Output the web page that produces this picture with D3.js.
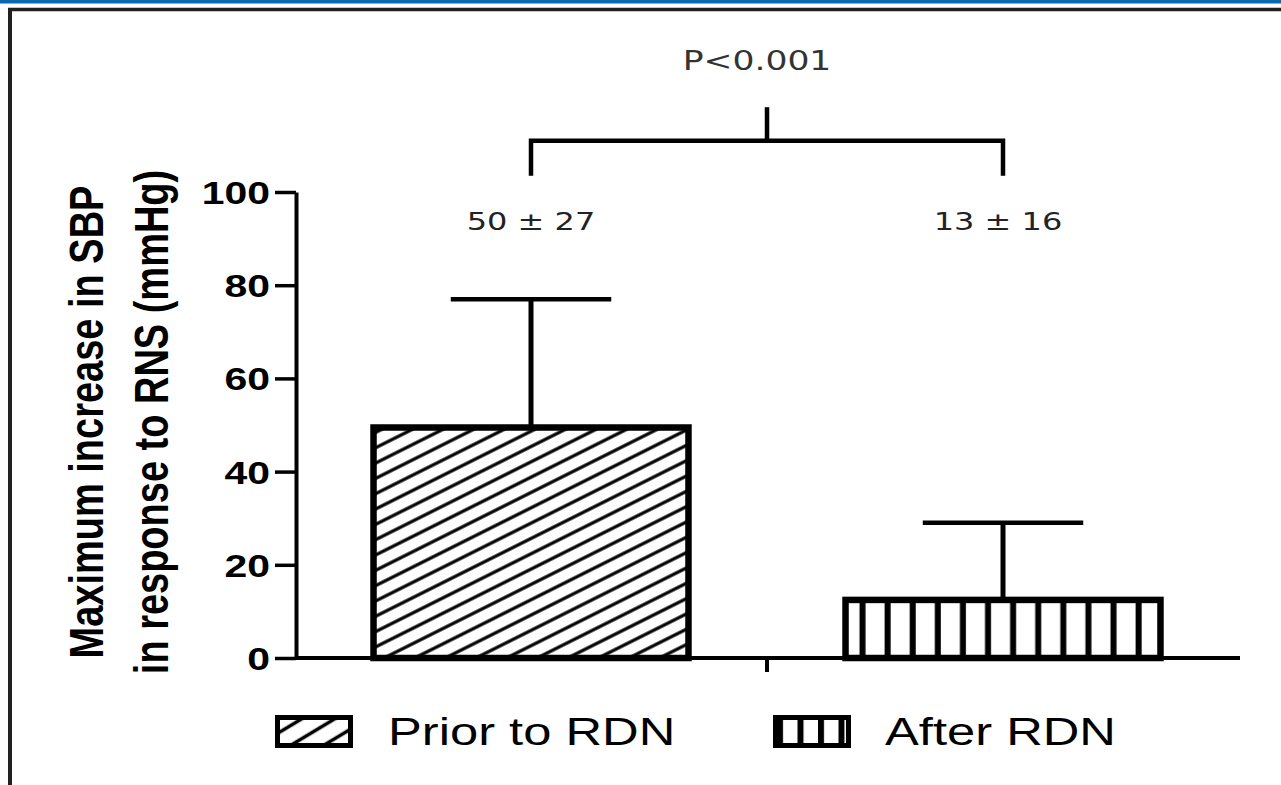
<!DOCTYPE html>
<html>
<head>
<meta charset="utf-8">
<script src="https://cdn.jsdelivr.net/npm/d3@7"></script>
<style>
  body { margin: 0; background: #fff; }
  svg { display: block; }
</style>
</head>
<body>
<div id="chart"></div>
<script>
// values
var categories = ["Prior to RDN", "After RDN"];
var means = [50, 13];
var sds = [27, 16];
var meanLabels = ["50 \u00b1 27", "13 \u00b1 16"];
var yTicks = [0, 20, 40, 60, 80, 100];
var pLabel = "P<0.001";
var yTitle = ["Maximum increase in SBP", "in response to RNS (mmHg)"];

var W = 1281, H = 785;
var squash = 1.28; // the source figure is stretched sideways

var svg = d3.select("#chart").append("svg")
  .attr("width", W)
  .attr("height", H);

svg.append("rect").attr("width", W).attr("height", H).attr("fill", "#fff");

// page frame
svg.append("rect").attr("x", 0).attr("y", 0).attr("width", W).attr("height", 3.5).attr("fill", "#0a67b0");
svg.append("line").attr("x1", 8).attr("x2", W).attr("y1", 9.5).attr("y2", 9.5)
  .attr("stroke", "#231f20").attr("stroke-width", 3.5);
svg.append("line").attr("x1", 10).attr("x2", 10).attr("y1", 8).attr("y2", H)
  .attr("stroke", "#231f20").attr("stroke-width", 4);

var y = d3.scaleLinear().domain([0, 100]).range([658, 192]);
var x = d3.scaleBand().domain(categories).range([295, 1239]);
var barW = x.bandwidth() * 0.68;
var cx = function(c) { return x(c) + x.bandwidth() / 2; };

var defs = svg.append("defs");
var hatch = defs.append("pattern")
  .attr("id", "hatch")
  .attr("patternUnits", "userSpaceOnUse")
  .attr("width", 10).attr("height", 13.7)
  .attr("patternTransform", "rotate(-26.6)");
hatch.append("line")
  .attr("x1", -1).attr("x2", 11).attr("y1", 6.85).attr("y2", 6.85)
  .attr("stroke", "#000").attr("stroke-width", 3.2);

var stripes = defs.append("pattern")
  .attr("id", "stripes")
  .attr("patternUnits", "userSpaceOnUse")
  .attr("x", cx(categories[1]) - barW / 2)
  .attr("width", 25.1).attr("height", 10);
stripes.append("rect")
  .attr("x", 17).attr("width", 6).attr("height", 10).attr("fill", "#000");

var hatchSmall = defs.append("pattern")
  .attr("id", "hatchSmall")
  .attr("patternUnits", "userSpaceOnUse")
  .attr("width", 10).attr("height", 17)
  .attr("patternTransform", "translate(280,722) rotate(-31)");
hatchSmall.append("line")
  .attr("x1", -1).attr("x2", 11).attr("y1", 8.5).attr("y2", 8.5)
  .attr("stroke", "#000").attr("stroke-width", 3.5);

var stripesSmall = defs.append("pattern")
  .attr("id", "stripesSmall")
  .attr("patternUnits", "userSpaceOnUse")
  .attr("x", 777)
  .attr("width", 20.5).attr("height", 10);
stripesSmall.append("rect")
  .attr("x", 0).attr("width", 6).attr("height", 10).attr("fill", "#000");

var fills = ["url(#hatch)", "url(#stripes)"];
var legendFills = ["url(#hatchSmall)", "url(#stripesSmall)"];

// y axis
var yAxis = svg.append("g")
  .attr("transform", "translate(296,0)")
  .call(d3.axisLeft(y).tickValues(yTicks).tickSize(21).tickSizeOuter(0));
yAxis.select(".domain").attr("stroke", "#000").attr("stroke-width", 4);
yAxis.selectAll(".tick line").attr("stroke", "#000").attr("stroke-width", 3.5);
yAxis.selectAll(".tick text")
  .attr("x", 0)
  .attr("dy", "0.36em")
  .attr("transform", "translate(-26,0) scale(" + squash + ",1)")
  .attr("text-anchor", "end")
  .attr("fill", "#000")
  .style("font", "bold 32px 'Liberation Sans', Arial, sans-serif");

// x axis: plain baseline with one divider tick
svg.append("line")
  .attr("x1", 296).attr("x2", 1240)
  .attr("y1", y(0)).attr("y2", y(0))
  .attr("stroke", "#000").attr("stroke-width", 4);
svg.append("line")
  .attr("x1", x(categories[1])).attr("x2", x(categories[1]))
  .attr("y1", y(0)).attr("y2", y(0) + 14)
  .attr("stroke", "#000").attr("stroke-width", 4);

// bars
var bars = svg.append("g");
categories.forEach(function(c, i) {
  bars.append("rect")
    .attr("x", cx(c) - barW / 2 + 3)
    .attr("y", y(means[i]) + 2.5)
    .attr("width", barW - 6)
    .attr("height", y(0) - y(means[i]) - 2.5)
    .attr("fill", "#fff");
  bars.append("rect")
    .attr("x", cx(c) - barW / 2 + 3)
    .attr("y", y(means[i]) + 2.5)
    .attr("width", barW - 6)
    .attr("height", y(0) - y(means[i]) - 2.5)
    .attr("fill", fills[i])
    .attr("stroke", "#000")
    .attr("stroke-width", 6.5);

  // error bar (upper only)
  bars.append("line")
    .attr("x1", cx(c)).attr("x2", cx(c))
    .attr("y1", y(means[i])).attr("y2", y(means[i] + sds[i]))
    .attr("stroke", "#000").attr("stroke-width", 5);
  bars.append("line")
    .attr("x1", cx(c) - barW * 0.25).attr("x2", cx(c) + barW * 0.25)
    .attr("y1", y(means[i] + sds[i])).attr("y2", y(means[i] + sds[i]))
    .attr("stroke", "#000").attr("stroke-width", 4.5);

  svg.append("text")
    .attr("transform", "translate(" + (cx(c) - 5 * i) + ",230) scale(" + squash + ",1)")
    .attr("text-anchor", "middle")
    .attr("fill", "#222")
    .style("font", "25px 'DejaVu Sans', Verdana, sans-serif")
    .text(meanLabels[i]);
});

// significance bracket
var left = cx(categories[0]), right = cx(categories[1]), mid = x(categories[1]);
svg.append("path")
  .attr("d", "M" + left + "," + y(103.5) + "V" + y(111) + "H" + right + "V" + y(103.5))
  .attr("fill", "none").attr("stroke", "#000").attr("stroke-width", 4.5);
svg.append("line")
  .attr("x1", mid).attr("x2", mid)
  .attr("y1", y(111)).attr("y2", y(118.2))
  .attr("stroke", "#000").attr("stroke-width", 4.5);
svg.append("text")
  .attr("transform", "translate(" + (mid - 10) + ",70) scale(" + squash + ",1)")
  .attr("text-anchor", "middle")
  .attr("fill", "#333")
  .style("font", "27px 'DejaVu Sans', Verdana, sans-serif")
  .text(pLabel);

// y title, two lines
yTitle.forEach(function(t, i) {
  svg.append("text")
    .attr("transform", "translate(" + [103, 168][i] + ",422) scale(" + squash + ",1) rotate(-90)")
    .attr("text-anchor", "middle")
    .attr("fill", "#000")
    .style("font", "bold 38px 'Liberation Sans', Arial, sans-serif")
    .text(t);
});

// legend
var legendX = [275, 773], textX = [388, 885];
categories.forEach(function(c, i) {
  svg.append("rect")
    .attr("x", legendX[i] + 2.5).attr("y", 717.5)
    .attr("width", 73).attr("height", 28)
    .attr("fill", legendFills[i])
    .attr("stroke", "#000").attr("stroke-width", 5);
  svg.append("text")
    .attr("transform", "translate(" + textX[i] + ",745) scale(1.3,1)")
    .attr("fill", "#000")
    .style("font", "39px 'Liberation Sans', Arial, sans-serif")
    .text(c);
});
</script>
</body>
</html>
